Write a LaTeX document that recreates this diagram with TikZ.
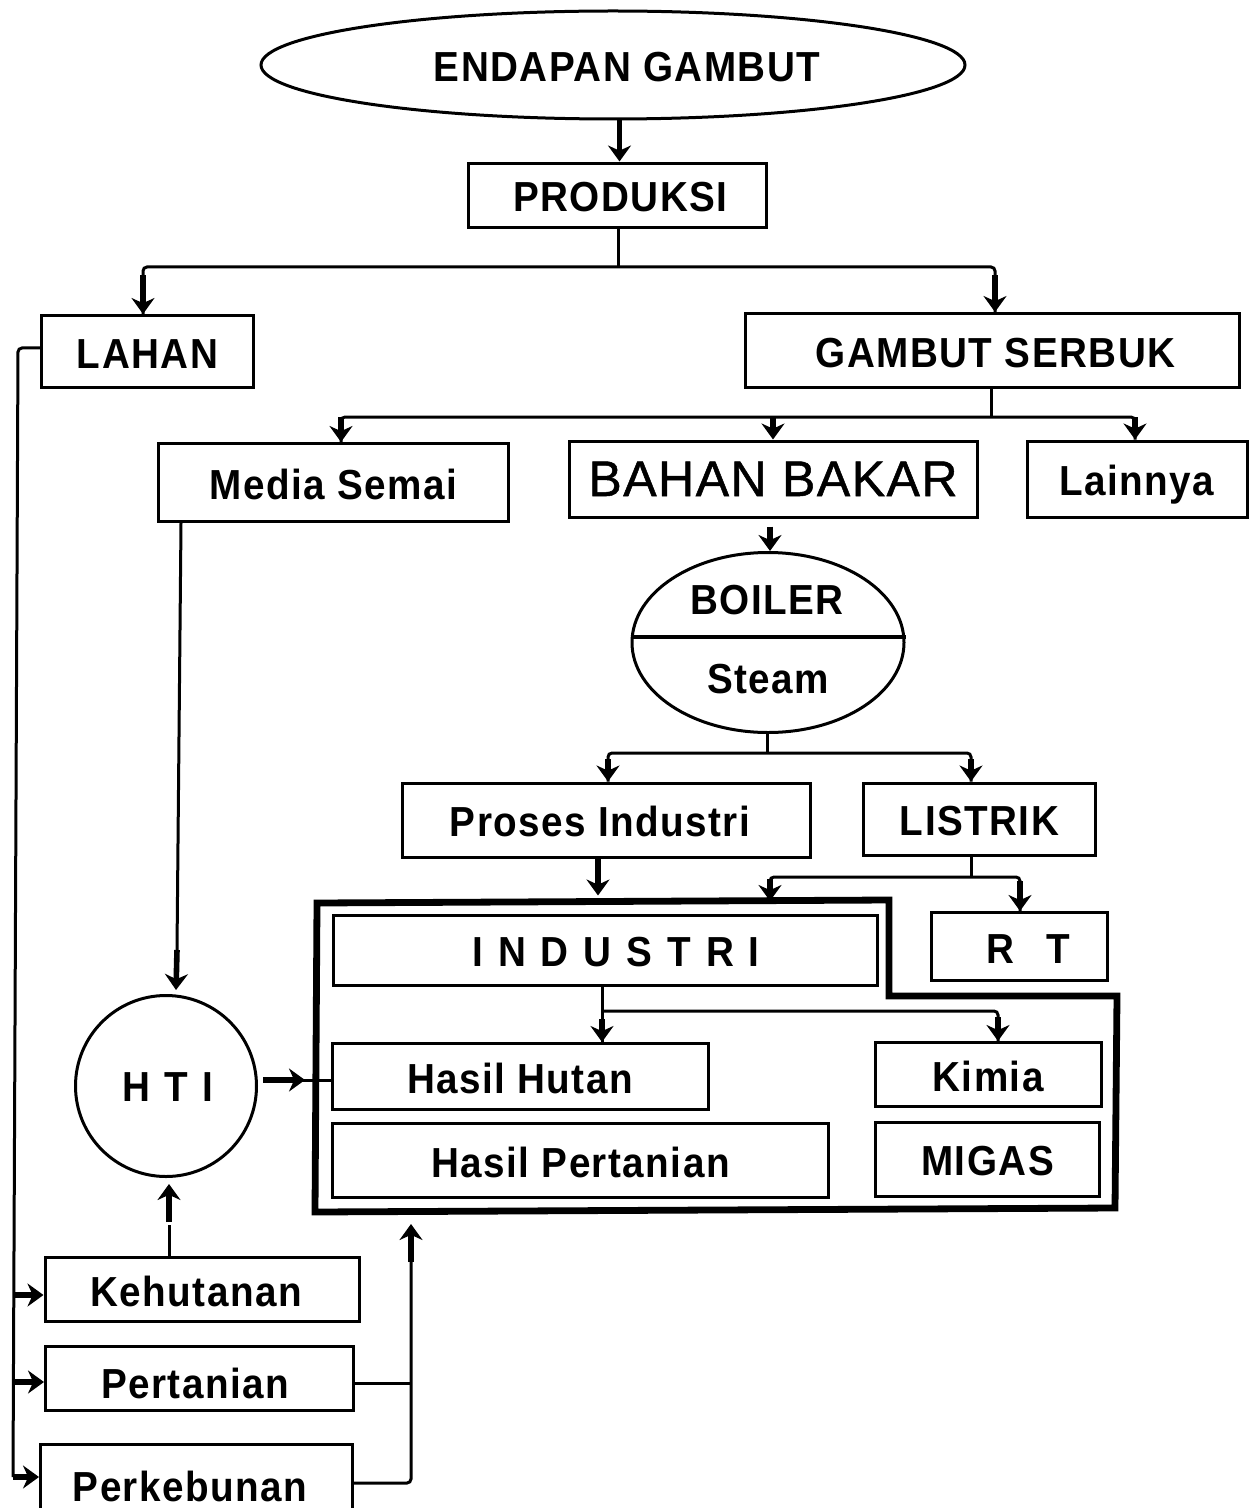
\documentclass[tikz,border=0pt]{standalone}
\usepackage{fontspec}
\setmainfont{Liberation Sans}
\newfontfamily\boxfont[FakeStretch=0.92,LetterSpace=3.5]{Liberation Sans}
\newfontfamily\bigboxfont[FakeBold=1,LetterSpace=3]{Liberation Sans}
\usetikzlibrary{arrows.meta,shapes.geometric}

\begin{document}
\begin{tikzpicture}[x=0.5pt,y=-0.5pt,>=Stealth,
  box/.style={draw,line width=1.5pt,inner sep=0pt,text height=16.5pt,text depth=0pt,font=\boxfont\bfseries\fontsize{21}{21}\selectfont},
  plaintxt/.style={font=\boxfont\bfseries\fontsize{21}{21}\selectfont},
  wire/.style={line width=1.5pt,rounded corners=2pt},
  stub/.style={line width=2.8pt,-{Stealth[length=8pt,width=11.5pt]}},
  heavy/.style={line width=3.4pt,line join=miter}]
  \useasboundingbox (0,0) rectangle (1250,1508);

  \node[box,ellipse,minimum width=352pt,minimum height=54pt] (endapan) at (613,65) {\hspace*{14pt}ENDAPAN GAMBUT};
  \node[box,minimum width=149pt,minimum height=32pt] (produksi) at (617.5,195.5) {\hspace*{3pt}PRODUKSI};
  \node[box,minimum width=106pt,minimum height=36pt] (lahan) at (147.5,351.5) {LAHAN};
  \node[box,minimum width=247pt,minimum height=37pt] (serbuk) at (992.5,350.5) {\hspace*{3pt}GAMBUT SERBUK};
  \node[box,minimum width=175pt,minimum height=39pt] (semai) at (333.5,482.5) {Media Semai};
  \node[box,font=\bigboxfont\fontsize{25}{25}\selectfont,text height=17pt,minimum width=204pt,minimum height=38pt] (bakar) at (773,479) {BAHAN BAKAR};
  \node[box,minimum width=110pt,minimum height=38pt] (lainnya) at (1137,479) {Lainnya};
  \node[box,ellipse,minimum width=136pt,minimum height=90pt] (boiler) at (768,642.5) {};
  \node[plaintxt] (boilertxt) at (767,600) {BOILER};
  \node[plaintxt] (steamtxt) at (768,679) {Steam};
  \node[box,minimum width=204pt,minimum height=37pt] (proses) at (606,820) {Proses Industri\hspace*{6pt}};
  \node[box,minimum width=116pt,minimum height=36pt] (listrik) at (979.5,819) {LISTRIK};
  \node[box,minimum width=88pt,minimum height=34pt] (rt) at (1019,946.5) {\hspace*{9pt}R\hspace{16pt}T};
  \node[box,minimum width=272pt,minimum height=35pt] (industri) at (605,950) {\hspace*{11pt}I\hspace{7.5pt}N\hspace{7.5pt}D\hspace{7.5pt}U\hspace{7.5pt}S\hspace{7.5pt}T\hspace{7.5pt}R\hspace{7.5pt}I};
  \node[box,minimum width=188pt,minimum height=33pt] (hutan) at (520,1076.5) {Hasil Hutan};
  \node[box,minimum width=113pt,minimum height=32pt] (kimia) at (988,1074.5) {Kimia};
  \node[box,minimum width=248pt,minimum height=37pt] (pertanianhasil) at (580.5,1160.5) {Hasil Pertanian};
  \node[box,minimum width=112pt,minimum height=37pt] (migas) at (987.5,1159) {MIGAS};
  \node[box,circle,minimum size=90.5pt,text height=15pt] (hti) at (166,1086) {\hspace*{2pt}H\hspace{7pt}T\hspace{7pt}I};
  \node[box,minimum width=157pt,minimum height=32pt] (kehutanan) at (202,1289.5) {Kehutanan\hspace*{6pt}};
  \node[box,text height=20pt,minimum width=154pt,minimum height=32pt] (pertanian) at (199.5,1378.5) {Pertanian\hspace*{4.5pt}};
  \node[box,minimum width=156pt,minimum height=41pt] (perkebunan) at (196.5,1485) {Perkebunan\hspace*{6.5pt}};

  \draw[heavy] (317,903) -- (889,900) -- (889,996) -- (1117,996) -- (1115,1208) -- (315,1212) -- cycle;
  \coordinate (bsplit) at (768,637);
  \draw[line width=1.6pt] (boiler.west |- bsplit) -- (boiler.east |- bsplit);

  \draw[stub] (endapan.south -| produksi.north) ++(2,0) -- ++(0,41);

  \coordinate (busA) at (618,267);
  \coordinate (dropL) at (143,267);
  \coordinate (dropS) at (995,267);
  \draw[wire] (produksi.south -| busA) -- (busA);
  \draw[wire] (lahan.north -| dropL) -- (dropL) -- (dropS) -- (serbuk.north -| dropS);
  \draw[stub] (dropL) ++(0,8) -- (lahan.north -| dropL);
  \draw[stub] (dropS) ++(0,8) -- (serbuk.north -| dropS);

  \coordinate (busB) at (991,417);
  \coordinate (dropM) at (341,417);
  \coordinate (dropB) at (773,417);
  \coordinate (dropO) at (1135,417);
  \draw[wire] (serbuk.south -| busB) -- (busB);
  \draw[wire] (semai.north -| dropM) -- (dropM) -- (dropO) -- (lainnya.north -| dropO);
  \foreach \drop/\boxname in {dropM/semai,dropB/bakar,dropO/lainnya}
    \draw[stub] (\drop) -- (\boxname.north -| \drop);

  \draw[stub] (bakar.south -| boiler.north) ++(2,8) -- (boiler.north -| 770,0);

  \coordinate (busC) at (767,753);
  \coordinate (dropP) at (608,753);
  \coordinate (dropE) at (971,753);
  \draw[wire] (boiler.south -| busC) -- (busC);
  \draw[wire] (proses.north -| dropP) -- (dropP) -- (dropE) -- (listrik.north -| dropE);
  \draw[stub] (dropP) ++(0,6) -- (proses.north -| dropP);
  \draw[stub] (dropE) ++(0,6) -- (listrik.north -| dropE);

  \coordinate (heavyin) at (598,900);
  \draw[stub,line width=3.4pt] (proses.south -| heavyin) -- ++(0,37);

  \coordinate (busD) at (971,877);
  \coordinate (dropI) at (770,877);
  \coordinate (dropR) at (1020,877);
  \draw[wire] (listrik.south -| busD) -- (busD);
  \draw[wire] (dropI) ++(0,20) -- (dropI) -- (dropR) -- (rt.north -| dropR);
  \draw[stub] (dropI) ++(0,2) -- ++(0,22);
  \draw[stub] (dropR) ++(0,4) -- (rt.north -| dropR);

  \coordinate (busE) at (602,1011);
  \coordinate (dropK) at (998,1011);
  \draw[wire] (industri.south -| busE) -- (hutan.north -| busE);
  \draw[wire] (busE) -- (dropK) -- (kimia.north -| dropK);
  \draw[stub] (busE) ++(0,8) -- (hutan.north -| busE);
  \draw[stub] (dropK) ++(0,6) -- (kimia.north -| dropK);

  \draw[wire] (semai.south -| 181,0) -- (177,950);
  \draw[stub] (177,950) -- (176,990);
  \draw[stub] (hti.east) ++(5,-6) -- ++(42,0);
  \draw[wire] (hti.east) ++(5,-6) -- (hutan.west |- 0,1080);
  \draw[wire] (kehutanan.north -| 169,0) -- (169,1225);
  \draw[stub,shorten >=3pt] (169,1222) -- (hti.south -| 169,0);

  \coordinate (trunk) at (13,1477);
  \draw[wire] (lahan.west |- 0,348) -- (18,348) -- (trunk);
  \foreach \boxname/\tapy in {kehutanan/1295,pertanian/1382,perkebunan/1477}
    \draw[stub] (13,\tapy) -- (\boxname.west |- 0,\tapy);

  \coordinate (riser) at (411,1383);
  \draw[wire] (pertanian.east |- riser) -- (riser);
  \draw[wire] (perkebunan.east |- 0,1483) -- (411,1483) -- (riser) -- (411,1260);
  \draw[stub] (411,1262) -- (411,1224);
\end{tikzpicture}
\end{document}
